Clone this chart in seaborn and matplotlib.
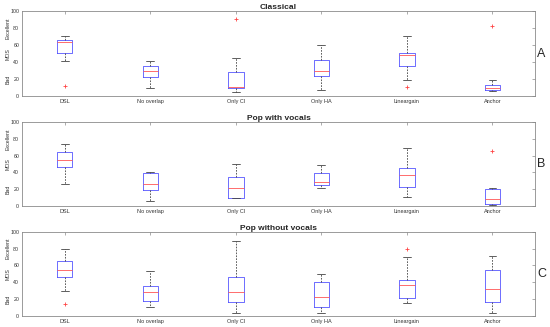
import matplotlib
matplotlib.use('Agg')
import matplotlib.pyplot as plt
import matplotlib.transforms as mtransforms
import pandas as pd
import seaborn as sns

methods = ['DSL', 'No overlap', 'Only CI', 'Only HA', 'Lineargain', 'Anchor']

# per method: [lower whisker, q1, median, q3, upper whisker]
classical_stats = [
    [41, 51, 64, 66, 71],
    [9, 23, 30, 35, 41],
    [5, 9, 11, 28, 45],
    [7, 24, 30, 43, 60],
    [19, 35, 48, 51, 71],
    [6, 7, 10, 13, 19],
]
classical_outliers = [('DSL', 12), ('Only CI', 91), ('Lineargain', 11), ('Anchor', 82)]

vocals_stats = [
    [26, 46, 55, 64, 74],
    [6, 19, 26, 39, 40],
    [9, 10, 21, 34, 50],
    [21, 25, 28, 39, 49],
    [11, 23, 37, 45, 69],
    [1, 2, 8, 20, 21],
]
vocals_outliers = [('Anchor', 66)]

novocals_stats = [
    [30, 46, 55, 65, 80],
    [10, 18, 29, 35, 54],
    [4, 16, 29, 46, 89],
    [4, 11, 22, 40, 50],
    [15, 21, 37, 43, 70],
    [3, 17, 32, 55, 71],
]
novocals_outliers = [('DSL', 14), ('Lineargain', 80)]

panels = [
    ('Classical', 'A', classical_stats, classical_outliers),
    ('Pop with vocals', 'B', vocals_stats, vocals_outliers),
    ('Pop without vocals', 'C', novocals_stats, novocals_outliers),
]

sns.set_style('white')
plt.rcParams['font.family'] = ['Liberation Sans', 'DejaVu Sans']

fig = plt.figure(figsize=(5.5, 3.27), dpi=100)
positions = [
    [0.04, 0.706, 0.933, 0.260],
    [0.04, 0.370, 0.933, 0.257],
    [0.04, 0.034, 0.933, 0.257],
]
grey = '#8a8a8a'

for (title, letter, stats, outliers), pos in zip(panels, positions):
    ax = fig.add_axes(pos)
    rows = []
    for m, s in zip(methods, stats):
        for v in s:
            rows.append({'method': m, 'score': v})
    df = pd.DataFrame(rows)
    sns.boxplot(data=df, x='method', y='score', order=methods, ax=ax,
                whis=(0, 100), width=0.18, fill=False, linewidth=0.6,
                boxprops=dict(color='#5555ff'),
                medianprops=dict(color='#ff5555'),
                whiskerprops=dict(color='#444444', linestyle=(0, (2, 1.5))),
                capprops=dict(color='#444444'),
                showfliers=False)
    if outliers:
        odf = pd.DataFrame(outliers, columns=['method', 'score'])
        sns.stripplot(data=odf, x='method', y='score', order=methods, ax=ax,
                      jitter=False, marker='+', color='#ff4444', size=3,
                      linewidth=0.6)
    ax.set_xlim(-0.5, 5.5)
    ax.set_ylim(0, 100)
    ax.set_yticks([0, 20, 40, 60, 80, 100])
    ax.set_xlabel('')
    ax.set_ylabel('')
    ax.tick_params(axis='both', direction='in', length=2.5, width=0.5,
                   labelsize=4, colors=grey, labelcolor='#333333', pad=2,
                   top=True, right=True)
    ax.tick_params(axis='y', labelsize=3.8)
    for sp in ax.spines.values():
        sp.set_color(grey)
        sp.set_linewidth(0.6)
    ax.set_title(title, fontsize=6, fontweight='bold', pad=1.5)
    tr = mtransforms.blended_transform_factory(fig.transFigure, ax.transData)
    for txt, yv in [('Bad', 20), ('MOS', 50), ('Excellent', 80)]:
        fig.text(0.014, yv, txt, transform=tr, rotation=90, fontsize=3.8,
                 color='#333333', ha='center', va='center')
    ax.text(1.004, 0.5, letter, transform=ax.transAxes, fontsize=9,
            ha='left', va='center')

fig.savefig('out.png', dpi=100)
